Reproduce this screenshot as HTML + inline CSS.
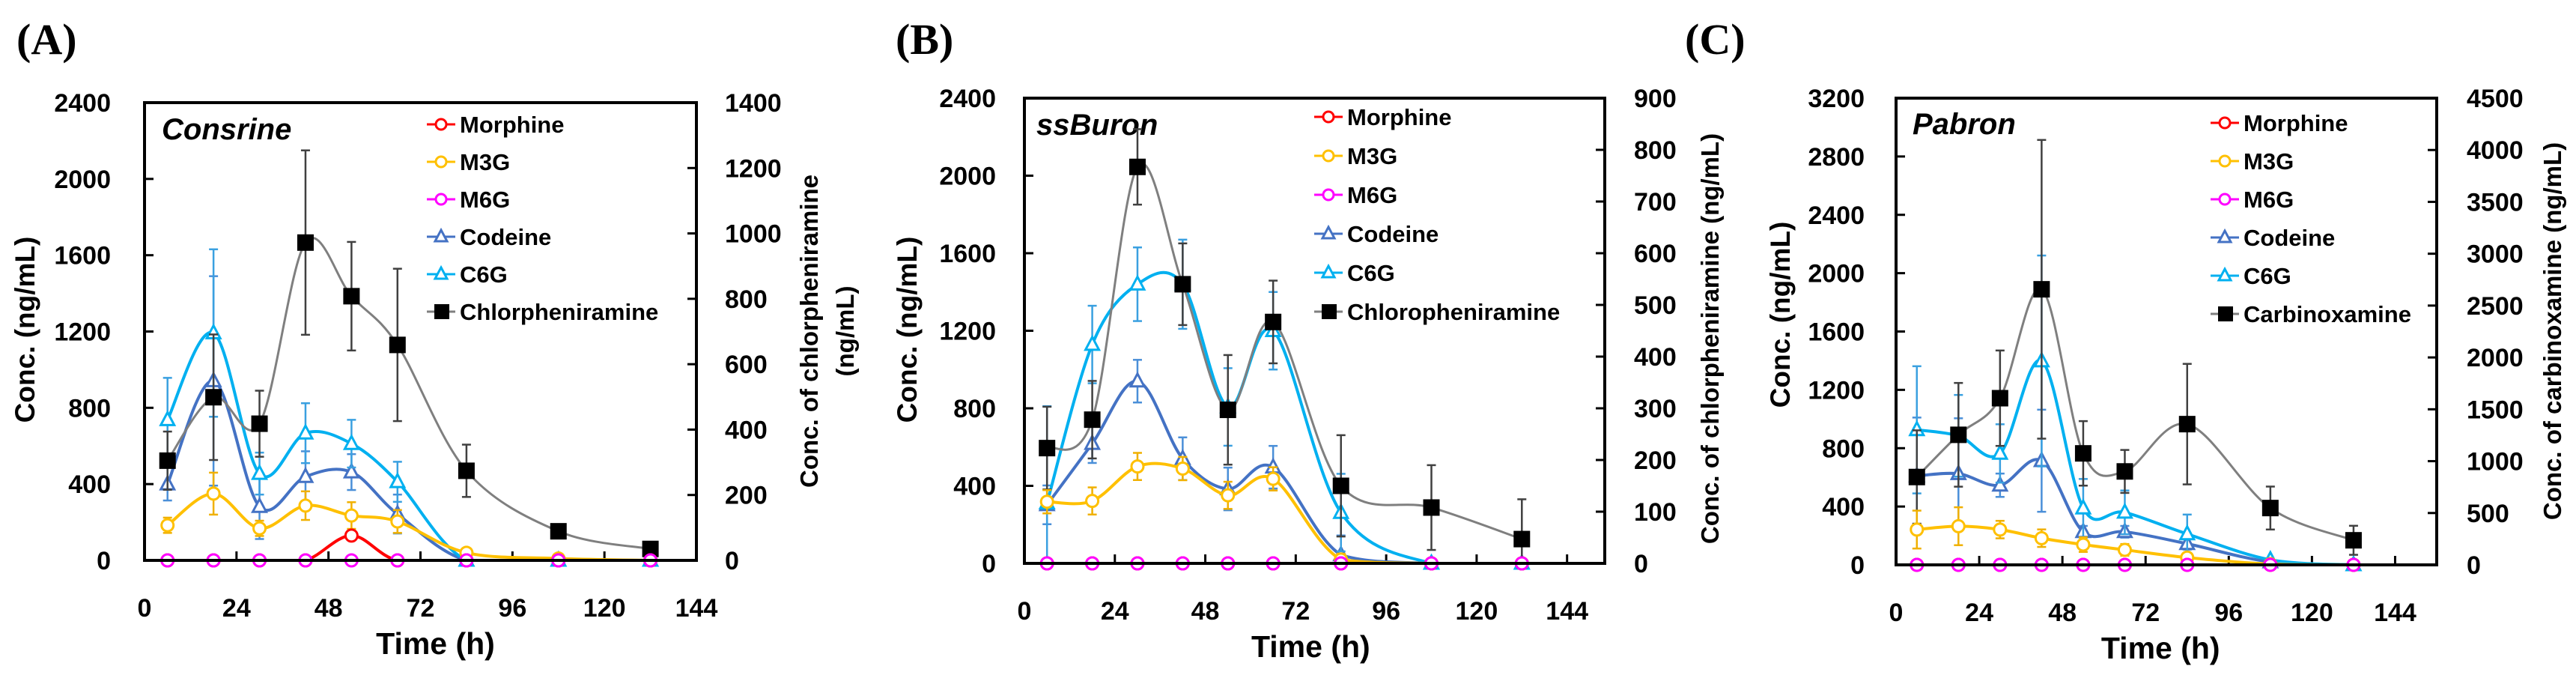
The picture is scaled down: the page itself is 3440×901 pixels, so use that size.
<!DOCTYPE html>
<html><head><meta charset="utf-8"><style>
html,body{margin:0;padding:0;background:#fff;}
svg{display:block;font-family:"Liberation Sans",sans-serif;}
</style></head><body>
<svg id="fig" width="3440" height="901" viewBox="0 0 3440 901"></svg>
<script>
const times = [6,18,30,42,54,66,84,108,132];
// Panel A (Consrine)
const aMorphine = [0,0,0,0,130,0,0,0,0];
const aM3G = [184,350,168,287,235,204,40,10,0];
const aM6G = [0,0,0,0,0,0,0,0,0];
const aCodeine = [400,941,282,439,463,243,0,0,0];
const aC6G = [737,1192,455,667,612,412,0,0,0];
const aChlor = [305,499,418,972,808,659,274,89,35];
const aM3GErr = [40,110,40,75,70,60,10,5,0];
const aCodeineErr = [86,549,170,133,94,102,0,0,0];
const aC6GErr = [220,439,110,157,125,105,0,0,0];
const aChlorErr = [89,192,101,282,166,233,80,15,8];
// Panel B (ssBuron)
const bMorphine = [0,0,0,0,0,0,0,0,0];
const bM3G = [318,322,500,489,351,436,20,0,0];
const bM6G = [0,0,0,0,0,0,0,0,0];
const bCodeine = [302,618,940,540,384,496,44,0,0];
const bC6G = [311,1129,1440,1440,807,1200,262,0,0];
const bChlor = [223,278,767,540,297,467,150,108,47];
const bM3GErr = [60,70,70,60,70,60,30,0,0];
const bCodeineErr = [100,100,110,110,110,110,100,0,0];
const bC6GErr = [500,200,190,230,200,200,200,0,0];
const bChlorErr = [80,75,73,79,106,80,98,82,77];
// Panel C (Pabron)
const cMorphine = [0,0,0,0,0,0,0,0,0];
const cM3G = [242,265,242,183,139,103,50,5,0];
const cM6G = [0,0,0,0,0,0,0,0,0];
const cCodeine = [610,625,546,714,227,227,145,20,0];
const cC6G = [926,885,764,1398,389,360,212,35,0];
const cCarb = [847,1254,1607,2657,1075,901,1357,548,237];
const cM3GErr = [130,130,60,60,50,40,20,0,0];
const cCodeineErr = [400,380,80,350,40,40,40,0,0];
const cC6GErr = [436,280,200,723,200,150,133,0,0];
const cCarbErr = [450,500,460,1440,311,207,581,207,140];
const xTicks = [0,24,48,72,96,120,144];
const aLeftTicks = [0,400,800,1200,1600,2000,2400];
const aRightTicks = [0,200,400,600,800,1000,1200,1400];
const bLeftTicks = [0,400,800,1200,1600,2000,2400];
const bRightTicks = [0,100,200,300,400,500,600,700,800,900];
const cLeftTicks = [0,400,800,1200,1600,2000,2400,2800,3200];
const cRightTicks = [0,500,1000,1500,2000,2500,3000,3500,4000,4500];

const NS="http://www.w3.org/2000/svg";
const svg=document.getElementById('fig');
function mk(tag,attrs,parent,text){const e=document.createElementNS(NS,tag);for(const k in attrs)e.setAttribute(k,attrs[k]);if(text!==undefined)e.textContent=text;(parent||svg).appendChild(e);return e;}
function smooth(pts,base){
  if(pts.length<2)return '';
  let d='M'+pts[0][0]+','+pts[0][1];
  for(let i=0;i<pts.length-1;i++){
    const p0=pts[i-1]||pts[i],p1=pts[i],p2=pts[i+1],p3=pts[i+2]||pts[i+1];
    const c1=[p1[0]+(p2[0]-p0[0])/6,Math.min(base,p1[1]+(p2[1]-p0[1])/6)];
    const c2=[p2[0]-(p3[0]-p1[0])/6,Math.min(base,p2[1]-(p3[1]-p1[1])/6)];
    if(p1[1]>=base-0.5&&p2[1]>=base-0.5){c1[1]=base;c2[1]=base;}
    d+=' C'+c1[0]+','+c1[1]+' '+c2[0]+','+c2[1]+' '+p2[0]+','+p2[1];
  }
  return d;
}
function panel(P){
  const g=mk('g',{});
  
  
  const xs=v=>P.L+(v/P.xmax)*(P.R-P.L);
  const yl=v=>P.B-(v/P.lmax)*(P.B-P.T);
  const yr=v=>P.B-(v/P.rmax)*(P.B-P.T);
  const lab=mk('text',{x:P.labX,y:72,'font-family':'"Liberation Serif",serif','font-weight':'bold','font-size':58},g,P.label);
  
  const tg=mk('g',{stroke:'#000','stroke-width':3},g);
  
  P.lt.forEach(v=>{mk('line',{x1:P.L,x2:P.L+12,y1:yl(v),y2:yl(v)},tg);
    const t=mk('text',{x:P.lLabX,y:yl(v)+12,'text-anchor':'end','font-weight':'bold','font-size':34,stroke:'none'},g,String(v));
    });
  P.rt.forEach(v=>{mk('line',{x1:P.R,x2:P.R-12,y1:yr(v),y2:yr(v)},tg);
    const t=mk('text',{x:P.rLabX,y:yr(v)+12,'font-weight':'bold','font-size':34},g,String(v));
    });
  xTicks.forEach(v=>{mk('line',{x1:xs(v),x2:xs(v),y1:P.B,y2:P.B-12},tg);
    const t=mk('text',{x:xs(v),y:P.B+75,'text-anchor':'middle','font-weight':'bold','font-size':34},g,String(v));
    });
  const xt=mk('text',{x:(P.L+xs(144))/2+20,y:P.B+125,'text-anchor':'middle','font-weight':'bold','font-size':41},g,'Time (h)');
  
  const ly=mk('text',{transform:`translate(${P.lTitX},${P.lTitY}) rotate(-90)`,'text-anchor':'middle','font-weight':'bold','font-size':37},g,'Conc. (ng/mL)');
  
  P.rTit.forEach((s,i)=>{const ry=mk('text',{transform:`translate(${P.rTitX[i]},${P.rTitY}) rotate(-90)`,'text-anchor':'middle','font-weight':'bold','font-size':33},g,s);
    });
  const tt=mk('text',{x:P.tX,y:P.tY,'font-weight':'bold','font-style':'italic','font-size':40},g,P.title);
  
  P.series.forEach(s=>{
    const sg=mk('g',{},g);
    
    
    const yf=s.right?yr:yl;
    if(s.err){s.err.forEach((e,i)=>{if(!e)return;const x=xs(times[i]),y1=yf(s.vals[i]+e),y2=yf(Math.max(0,s.vals[i]-e));
      mk('line',{x1:x,x2:x,y1:y1,y2:y2,stroke:s.ecol,'stroke-width':2.5},sg);
      mk('line',{x1:x-6,x2:x+6,y1:y1,y2:y1,stroke:s.ecol,'stroke-width':2.5},sg);
      mk('line',{x1:x-6,x2:x+6,y1:y2,y2:y2,stroke:s.ecol,'stroke-width':2.5},sg);});}
    const pts=s.vals.map((v,i)=>[xs(times[i]),yf(v)]);
    mk('path',{d:smooth(pts,P.B),fill:'none',stroke:s.col,'stroke-width':s.right?3:4},sg);
    pts.forEach(p=>{let m;
      if(s.mk==='c')m=mk('circle',{cx:p[0],cy:p[1],r:8,fill:'#fff',stroke:s.col,'stroke-width':3},sg);
      else if(s.mk==='t')m=mk('path',{d:`M${p[0]},${p[1]-10} L${p[0]+9},${p[1]+7} L${p[0]-9},${p[1]+7} Z`,fill:'#fff',stroke:s.col,'stroke-width':3},sg);
      else m=mk('rect',{x:p[0]-11,y:p[1]-11,width:22,height:22,fill:'#000'},sg);
      });
  });
  const fr=mk('rect',{x:P.L,y:P.T,width:P.R-P.L,height:P.B-P.T,fill:'none',stroke:'#000','stroke-width':4},g);
  
}
function mkSeries(m,m3,m6,cod,c6,ch,m3e,code,c6e,che,chName){
  return [
    {key:'codeine',name:'Codeine',vals:cod,err:code,col:'#4472c4',ecol:'#4a8fd8',mk:'t'},
    {key:'c6g',name:'C6G',vals:c6,err:c6e,col:'#00b0f0',ecol:'#3aa0e0',mk:'t'},
    {key:'chlor',name:chName,vals:ch,err:che,col:'#7f7f7f',ecol:'#404040',mk:'s',right:true},
    {key:'m3g',name:'M3G',vals:m3,err:m3e,col:'#ffc000',ecol:'#f0b000',mk:'c'},
    {key:'morphine',name:'Morphine',vals:m,col:'#ff0000',mk:'c'},
    {key:'m6g',name:'M6G',vals:m6,col:'#ff00ff',mk:'c'},
  ];
}
function legendOrder(s){const o=['morphine','m3g','m6g','codeine','c6g','chlor'];return o.map(k=>s.find(x=>x.key===k));}
function build(P,s){
  const legendS=legendOrder(s);
  panel(Object.assign({},P,{series:s}));
  const g=mk('g',{});
  legendS.forEach((sr,i)=>{
    const lg=mk('g',{},g);
    
    
    const y=P.legY+i*P.legDy,x0=P.legX;
    mk('line',{x1:x0,x2:x0+38,y1:y,y2:y,stroke:sr.col,'stroke-width':3},lg);
    if(sr.mk==='c')mk('circle',{cx:x0+19,cy:y,r:7,fill:'#fff',stroke:sr.col,'stroke-width':3},lg);
    else if(sr.mk==='t')mk('path',{d:`M${x0+19},${y-9} L${x0+27},${y+6} L${x0+11},${y+6} Z`,fill:'#fff',stroke:sr.col,'stroke-width':3},lg);
    else mk('rect',{x:x0+10,y:y-10,width:20,height:20,fill:'#000'},lg);
    mk('text',{x:x0+44,y:y+11,'font-weight':'bold','font-size':31},lg,sr.name);
  });
}
build({id:'a',label:'(A)',labX:22,L:193,R:930,T:137,B:748,xmax:144,lmax:2400,rmax:1400,lt:aLeftTicks,rt:aRightTicks,
  lLabX:148,rLabX:968,lTitX:46,lTitY:440,rTit:['Conc. of chlorpheniramine','(ng/mL)'],rTitX:[1092,1140],rTitY:442,
  title:'Consrine',tX:216,tY:186,legX:570,legY:166,legDy:50},
  mkSeries(aMorphine,aM3G,aM6G,aCodeine,aC6G,aChlor,aM3GErr,aCodeineErr,aC6GErr,aChlorErr,'Chlorpheniramine'));
build({id:'b',label:'(B)',labX:1196,L:1368,R:2143,T:131,B:752,xmax:154,lmax:2400,rmax:900,lt:bLeftTicks,rt:bRightTicks,
  lLabX:1330,rLabX:2182,lTitX:1224,lTitY:440,rTit:['Conc. of chlorpheniramine (ng/mL)'],rTitX:[2295],rTitY:452,
  title:'ssBuron',tX:1384,tY:180,legX:1755,legY:156,legDy:52},
  mkSeries(bMorphine,bM3G,bM6G,bCodeine,bC6G,bChlor,bM3GErr,bCodeineErr,bC6GErr,bChlorErr,'Chloropheniramine'));
build({id:'c',label:'(C)',labX:2250,L:2532,R:3254,T:131,B:754,xmax:156,lmax:3200,rmax:4500,lt:cLeftTicks,rt:cRightTicks,
  lLabX:2490,rLabX:3294,lTitX:2390,lTitY:420,rTit:['Conc. of carbinoxamine (ng/mL)'],rTitX:[3420],rTitY:442,
  title:'Pabron',tX:2554,tY:179,legX:2952,legY:164,legDy:51},
  mkSeries(cMorphine,cM3G,cM6G,cCodeine,cC6G,cCarb,cM3GErr,cCodeineErr,cC6GErr,cCarbErr,'Carbinoxamine'));
</script>
</body></html>
